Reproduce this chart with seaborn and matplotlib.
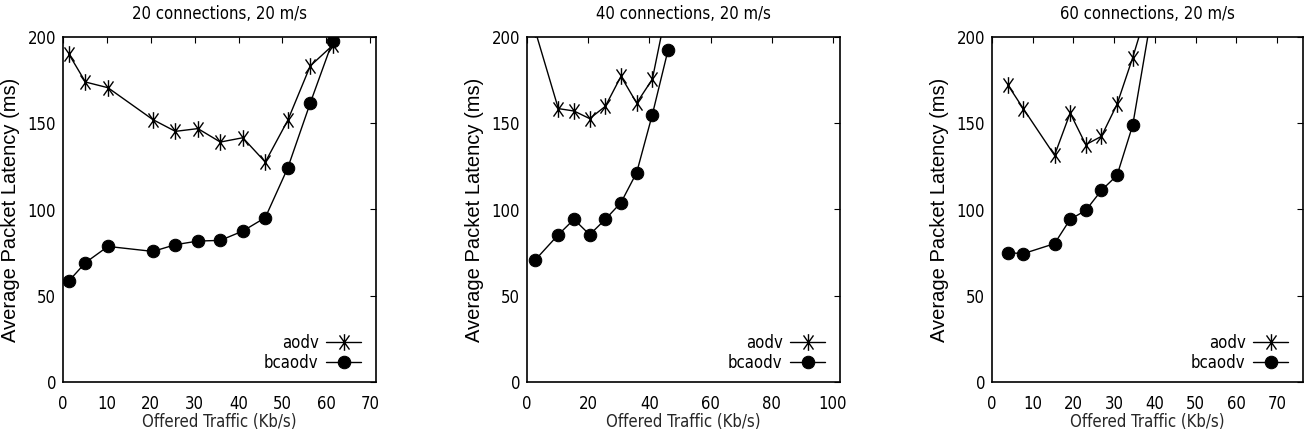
import matplotlib
matplotlib.use("Agg")
import matplotlib.pyplot as plt
from matplotlib import font_manager
from matplotlib.path import Path
import seaborn as sns

# offered traffic (Kb/s) and latency (ms), one set per panel
x_20 = [1.28, 5.12, 10.24, 20.48, 25.6, 30.72, 35.84, 40.96, 46.08, 51.2, 56.32, 61.44]
aodv_20 = [190.3, 173.9, 170.6, 152.1, 145.3, 146.9, 139.1, 141.6, 127.5, 151.7, 183.2, 195.2]
bcaodv_20 = [58.4, 69.2, 78.6, 75.7, 79.6, 81.7, 82.1, 87.5, 95.3, 124.1, 161.7, 197.7]

x_40 = [2.56, 10.24, 15.36, 20.48, 25.6, 30.72, 35.84, 40.96, 46.08]
aodv_40 = [204.4, 158.5, 157.1, 152.7, 159.8, 177.2, 161.7, 175.5, 220.0]
bcaodv_40 = [70.5, 85.4, 94.3, 85.4, 94.3, 104.0, 121.4, 155.0, 192.3]

x_60 = [3.84, 7.68, 15.36, 19.2, 23.04, 26.88, 30.72, 34.56, 42.24]
aodv_60 = [172.4, 158.5, 131.4, 155.9, 137.6, 142.4, 161.0, 188.0, 248.0]
bcaodv_60 = [75.0, 74.4, 80.2, 94.3, 99.5, 111.1, 119.8, 148.8, 255.0]

titles = ["20 connections, 20 m/s", "40 connections, 20 m/s", "60 connections, 20 m/s"]
xmax = [71.3, 102.3, 76.4]
xticks = [range(0, 71, 10), range(0, 101, 20), range(0, 71, 10)]
yticks = [0, 50, 100, 150, 200]

sns.set_style("white")

# look for a narrow face for the gnuplot-like tick/title text
narrow = None
for f in font_manager.fontManager.ttflist:
    if "Narrow" in f.name or "Condensed" in f.name:
        narrow = (f.name, "normal")
        break
    if f.stretch in ("condensed", "semi-condensed") and f.style == "normal":
        narrow = (f.name, f.stretch)
        break
if narrow is None:
    narrow = ("Liberation Sans", "normal")
plt.rcParams["font.family"] = [narrow[0], "DejaVu Sans"]
plt.rcParams["font.stretch"] = narrow[1]
plt.rcParams["text.color"] = "black"

# asterisk: vertical bar plus a steep x
star = Path([(0, -1), (0, 1), (-0.6, -0.85), (0.6, 0.85), (-0.6, 0.85), (0.6, -0.85)],
            [Path.MOVETO, Path.LINETO, Path.MOVETO, Path.LINETO, Path.MOVETO, Path.LINETO])

fig = plt.figure(figsize=(13.09, 4.4), dpi=100)
lefts = [63, 527, 992]
widths = [313, 313, 311]
panels = [(x_20, aodv_20, bcaodv_20), (x_40, aodv_40, bcaodv_40), (x_60, aodv_60, bcaodv_60)]

for i, (xs, a, b) in enumerate(panels):
    ax = fig.add_axes([lefts[i] / 1309, 58 / 440, widths[i] / 1309, 345 / 440])
    sns.lineplot(x=xs, y=a, ax=ax, color="black", lw=1.0, marker=star,
                 markersize=12, markeredgewidth=1.0, markeredgecolor="black",
                 markerfacecolor="none", label="aodv")
    sns.lineplot(x=xs, y=b, ax=ax, color="black", lw=1.0, marker="o",
                 markersize=9, markeredgecolor="black", label="bcaodv")
    ax.set_xlim(0, xmax[i])
    ax.set_ylim(0, 200)
    ax.set_xticks(list(xticks[i]))
    ax.set_yticks(yticks)
    ax.tick_params(direction="in", length=4, width=0.8, top=True, right=True,
                   labelsize=12, pad=5, colors="black")
    ax.tick_params(axis="x", pad=9)
    for s in ax.spines.values():
        s.set_color("black")
        s.set_linewidth(1.2)
    ax.set_title(titles[i], fontsize=12, pad=13)
    ax.set_xlabel("Offered Traffic (Kb/s)", fontsize=12, labelpad=0)
    ax.set_ylabel("Average Packet Latency (ms)", fontsize=14.5, color="black",
                  family=["Liberation Sans", "DejaVu Sans"], stretch="normal")
    ax.yaxis.set_label_coords(-43 / widths[i], 0.5)
    ax.legend(loc="lower right", bbox_to_anchor=(0.987, -0.003),
              markerfirst=False, frameon=False, fontsize=12,
              handlelength=2.1, handletextpad=0.45, labelspacing=0.15,
              borderaxespad=0.25, borderpad=0.4)

fig.savefig("out.png", dpi=100)
